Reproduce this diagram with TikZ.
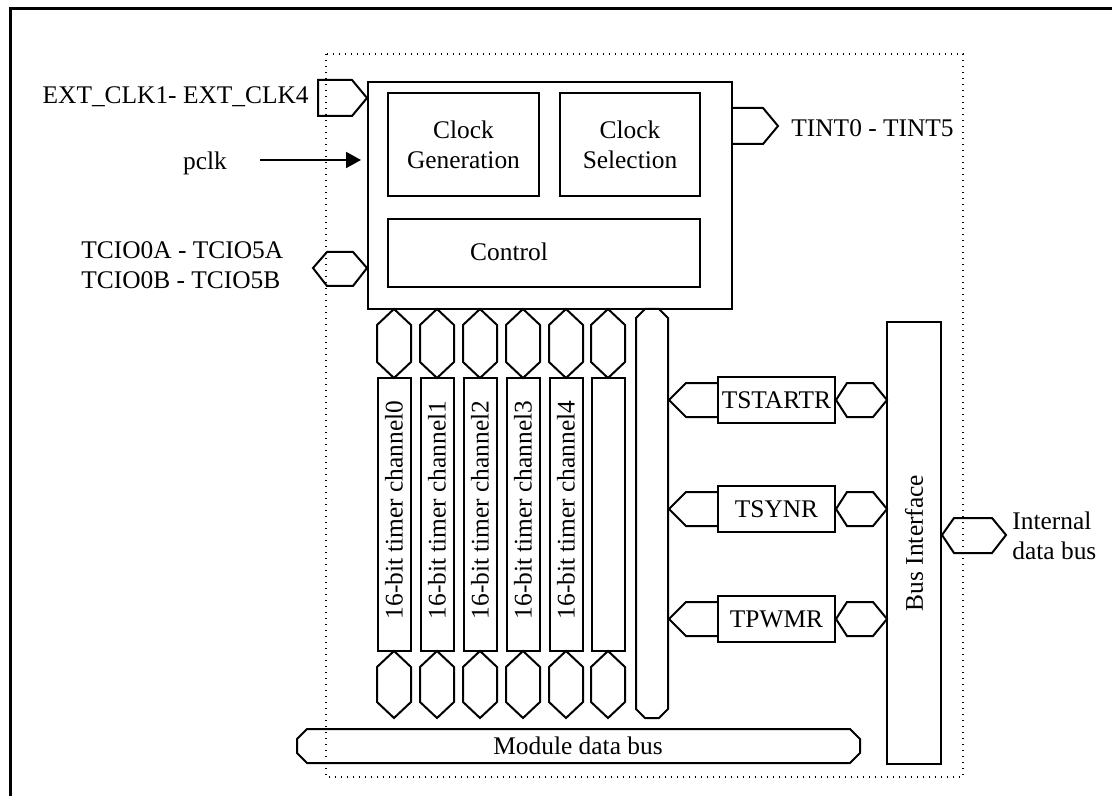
\documentclass[tikz,border=0pt]{standalone}
\usepackage{fontspec}
\setmainfont{Liberation Serif}
\usetikzlibrary{arrows.meta,fit}

\tikzset{
  blk/.style={draw, line width=1pt, inner sep=0pt, align=center},
  bus/.style={draw, line width=1pt, line join=miter},
  txt/.style={inner sep=0pt, align=left},
  dots/.style={line width=0.6pt, dash pattern=on 0.6pt off 2.4pt},
}

\begin{document}
\begin{tikzpicture}[x=0.5pt, y=-0.5pt, font=\fontsize{12.7}{15}\selectfont]
\useasboundingbox (0,0) rectangle (1112,796);
% frame and module boundary
\draw[line width=1.5pt] (10,796) -- (10,9) -- (1112,9);
\draw[dots] (326,54) rectangle (963,777);

% clock and control block
\node[blk, fit={(368,82) (732,309)}] (main) {};
\node[blk, minimum width=75.5pt, minimum height=51.5pt] (clkgen) at (463.5,144.5) {Clock\\Generation};
\node[blk, minimum width=70pt, minimum height=51.5pt] (clksel) at (630,144.5) {Clock\\Selection};
\node[blk, fit={(388,219) (700,287)}] (ctrl) {};
\node[txt] (ctrltxt) at (509,252) {Control};

% external pins
\node[txt, anchor=base east] (extclk) at (309,104) {EXT\_CLK1- EXT\_CLK4};
\draw[bus] (318,80) -- (352,80) -- (367,98) -- (352,116) -- (318,116) -- cycle;
\node[txt, anchor=base] (pclk) at (205,170) {pclk};
\coordinate (pclkin) at (260,160);
\draw[line width=1pt, -{Triangle[length=7.5pt,width=8pt]}, shorten >=3pt] (pclkin) -- (pclkin -| main.west);
\node[txt, anchor=west] (tcio) at (81,265) {TCIO0A - TCIO5A\\TCIO0B - TCIO5B};
\draw[bus] (313,268) -- (327,252) -- (353,252) -- (367,268) -- (353,286) -- (327,286) -- cycle;
\draw[bus] (732,108) -- (763,108) -- (778,126) -- (763,144) -- (732,144);
\node[txt, anchor=base west] (tint) at (791,137) {TINT0 - TINT5};

% timer channels
\foreach \i/\cx in {0/394,1/437,2/480,3/523,4/566,5/608} {
  \draw[bus] (\cx,309) -- ++(17,16) -- ++(0,37) -- (\cx,378) -- ++(-17,-16) -- ++(0,-37) -- cycle;
  \node[blk, fit={(\cx-16.5,378) (\cx+16.5,651)}] (ch\i) {};
  \draw[bus] (\cx,651) -- ++(17,16) -- ++(0,35) -- (\cx,718) -- ++(-17,-16) -- ++(0,-35) -- cycle;
}
\foreach \i/\cx in {0/394,1/437,2/480,3/523,4/566}
  \node[rotate=90] (cht\i) at (\cx,510) {16-bit timer channel\i};

% internal buses
\draw[bus] (645,309) -- (659,309) -- (668,318) -- (668,709) -- (659,718) -- (645,718) -- (636,709) -- (636,318) -- cycle;
\draw[bus] (307,729) -- (850,729) -- (860,739) -- (860,753) -- (850,763) -- (307,763) -- (297,753) -- (297,739) -- cycle;
\node (mdb) at (578,746) {Module data bus};

% registers
\foreach \n/\t/\y in {tstart/TSTARTR/400, tsyn/TSYNR/509, tpwm/TPWMR/619} {
  \node[blk, minimum width=58.5pt, minimum height=23pt] (\n) at (776.5,\y) {\t};
  \draw[bus] (718,\y-17) -- (686,\y-17) -- (669,\y) -- (686,\y+17) -- (718,\y+17);
  \draw[bus] (836,\y) -- (847,\y-17) -- (873,\y-17) -- (887,\y) -- (873,\y+17) -- (847,\y+17) -- cycle;
}

% bus interface
\node[blk, fit={(887,322) (941,764)}] (busif) {};
\node[rotate=90] (busift) at (914,543) {Bus Interface};
\draw[bus] (942,535) -- (954,518) -- (992,518) -- (1006,535) -- (992,553) -- (954,553) -- cycle;
\node[txt, anchor=west] (intbus) at (1012,536) {Internal\\data bus};
\end{tikzpicture}
\end{document}
